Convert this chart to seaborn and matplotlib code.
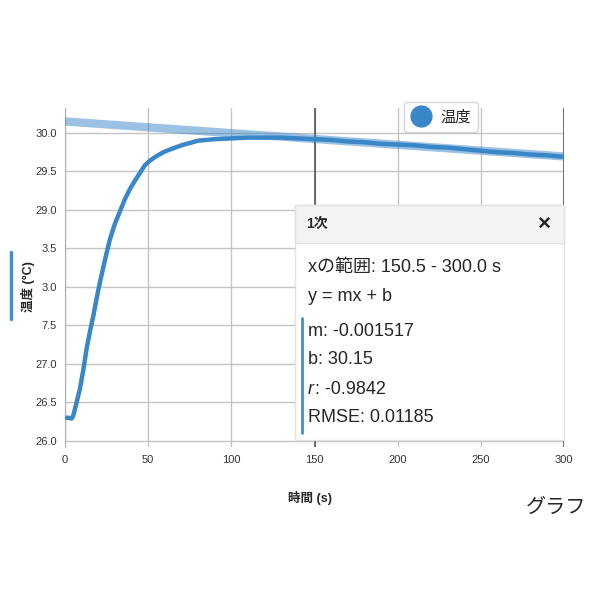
import numpy as np
import pandas as pd
import matplotlib
matplotlib.use('Agg')
import matplotlib.pyplot as plt
from matplotlib.patches import Rectangle
from matplotlib.lines import Line2D
import seaborn as sns

# 温度データ (読み取り値)
time_s = [0, 2, 4, 5, 7, 9, 11, 13, 15, 17, 19, 21, 24, 27, 30, 33, 36, 39, 42, 45,
          48, 51, 55, 60, 65, 70, 75, 80, 90, 100, 110, 120, 130, 140, 150, 160,
          170, 180, 190, 200, 210, 220, 230, 240, 250, 260, 270, 280, 290, 300]
temp_c = [26.30, 26.30, 26.29, 26.33, 26.50, 26.68, 26.92, 27.20, 27.42, 27.62,
          27.85, 28.06, 28.35, 28.62, 28.82, 28.98, 29.14, 29.27, 29.38, 29.48,
          29.58, 29.64, 29.70, 29.76, 29.80, 29.84, 29.87, 29.90, 29.92, 29.93,
          29.94, 29.94, 29.94, 29.93, 29.92, 29.91, 29.89, 29.88, 29.86, 29.85,
          29.84, 29.82, 29.81, 29.79, 29.77, 29.75, 29.74, 29.72, 29.71, 29.69]

# 1次フィット
fit_m = -0.001517
fit_b = 30.15
fit_range = [0, 300]

x_ticks = [0, 50, 100, 150, 200, 250, 300]
y_ticks = [26.0, 26.5, 27.0, 27.5, 28.0, 28.5, 29.0, 29.5, 30.0]
y_tick_labels = ['26.0', '26.5', '27.0', '7.5', '3.0', '3.5', '29.0', '29.5', '30.0']

popup_lines = ['xの範囲: 150.5 - 300.0 s', 'y = mx + b']
stat_lines = ['m: -0.001517', 'b: 30.15', None, 'RMSE: 0.01185']

blue = '#3a87c8'
sns.set_style('whitegrid')
plt.rcParams['font.family'] = ['Liberation Sans', 'Noto Sans CJK JP', 'DejaVu Sans']

W = H = 600
def fx(px):
  return px / W
def fy(py):
  return 1 - py / H

fig = plt.figure(figsize=(6, 6), dpi=100)
fig.patch.set_facecolor('white')
ax = fig.add_axes([fx(65), fy(447), fx(564) - fx(65), fy(108) - fy(447)])

df = pd.DataFrame({'time': time_s, 'temp': temp_c})
fit_df = pd.DataFrame({'time': fit_range,
                       'temp': [fit_b + fit_m * t for t in fit_range]})

sns.lineplot(data=fit_df, x='time', y='temp', ax=ax, color=blue, lw=6,
             alpha=0.5, solid_capstyle='butt', zorder=3)
sns.lineplot(data=df, x='time', y='temp', ax=ax, color=blue, lw=3.2, zorder=4)

ax.set_xlim(0, 300)
ax.set_ylim(25.92, 30.325)
ax.set_xticks(x_ticks)
ax.set_yticks(y_ticks)
ax.set_yticklabels(y_tick_labels)
ax.tick_params(labelsize=8, colors='#333333', length=0, pad=6)
ax.grid(True, color='#c4c4c4', lw=1)
for s in ['top', 'right', 'bottom']:
  ax.spines[s].set_visible(False)
ax.spines['left'].set_color('#b0b0b0')
ax.set_xlabel('')
ax.set_ylabel('')
# 選択範囲の境界線
for xv in [150, 300]:
  ax.axvline(xv, color='#555555', lw=1.2, zorder=2)

# 凡例
handle = Line2D([], [], ls='', marker='o', markersize=15, color=blue)
leg = ax.legend([handle], ['温度'], loc='center', bbox_to_anchor=(fx(441), fy(117)),
                bbox_transform=fig.transFigure, fontsize=11, frameon=True,
                fancybox=True, handletextpad=0.6, borderpad=0.5, handlelength=1.3)
leg.get_frame().set_edgecolor('#cccccc')
leg.get_frame().set_facecolor('white')
leg.set_zorder(10)

# ポップアップ
fig.patches.append(Rectangle((fx(295), fy(440)), fx(564) - fx(295), fy(205) - fy(440),
                             transform=fig.transFigure, facecolor='white',
                             edgecolor='#e2e2e2', lw=1, zorder=20))
fig.patches.append(Rectangle((fx(295), fy(243)), fx(564) - fx(295), fy(205) - fy(243),
                             transform=fig.transFigure, facecolor='#f2f3f5',
                             edgecolor='#e2e2e2', lw=1, zorder=21))
fig.text(fx(306), fy(224), '1次', fontsize=10, fontweight='bold', va='center', zorder=22)
fig.text(fx(544), fy(224), '×', fontsize=16, fontweight='bold', va='center',
         ha='center', zorder=22)
for i, s in enumerate(popup_lines):
  fig.text(fx(308), fy(267 + 29 * i), s, fontsize=13, va='center', zorder=22)
for i, s in enumerate(stat_lines):
  yy = fy(331 + 29 * i)
  if s is None:
    fig.text(fx(308), yy, 'r', fontsize=13, va='center', style='italic', zorder=22)
    fig.text(fx(315), yy, ': -0.9842', fontsize=13, va='center', zorder=22)
  else:
    fig.text(fx(308), yy, s, fontsize=13, va='center', zorder=22)
fig.lines.append(Line2D([fx(302), fx(302)], [fy(318), fy(433)], transform=fig.transFigure,
                        color='#4a8ec9', lw=2, zorder=22))

# 軸ラベル
fig.text(fx(28), fy(287), '温度 (°C)', rotation=90, fontsize=9, fontweight='bold',
         va='center', ha='center',
         bbox=dict(facecolor='white', edgecolor='none', pad=4))
fig.lines.append(Line2D([fx(11), fx(11)], [fy(252), fy(319)], transform=fig.transFigure,
                        color='#4a8ec9', lw=2.5))
fig.text(fx(310), fy(498), '時間 (s)', fontsize=9, fontweight='bold',
         va='center', ha='center')
fig.text(fx(556), fy(507), 'グラフ', fontsize=14.5, va='center', ha='center')

fig.savefig('out.png', dpi=100)
